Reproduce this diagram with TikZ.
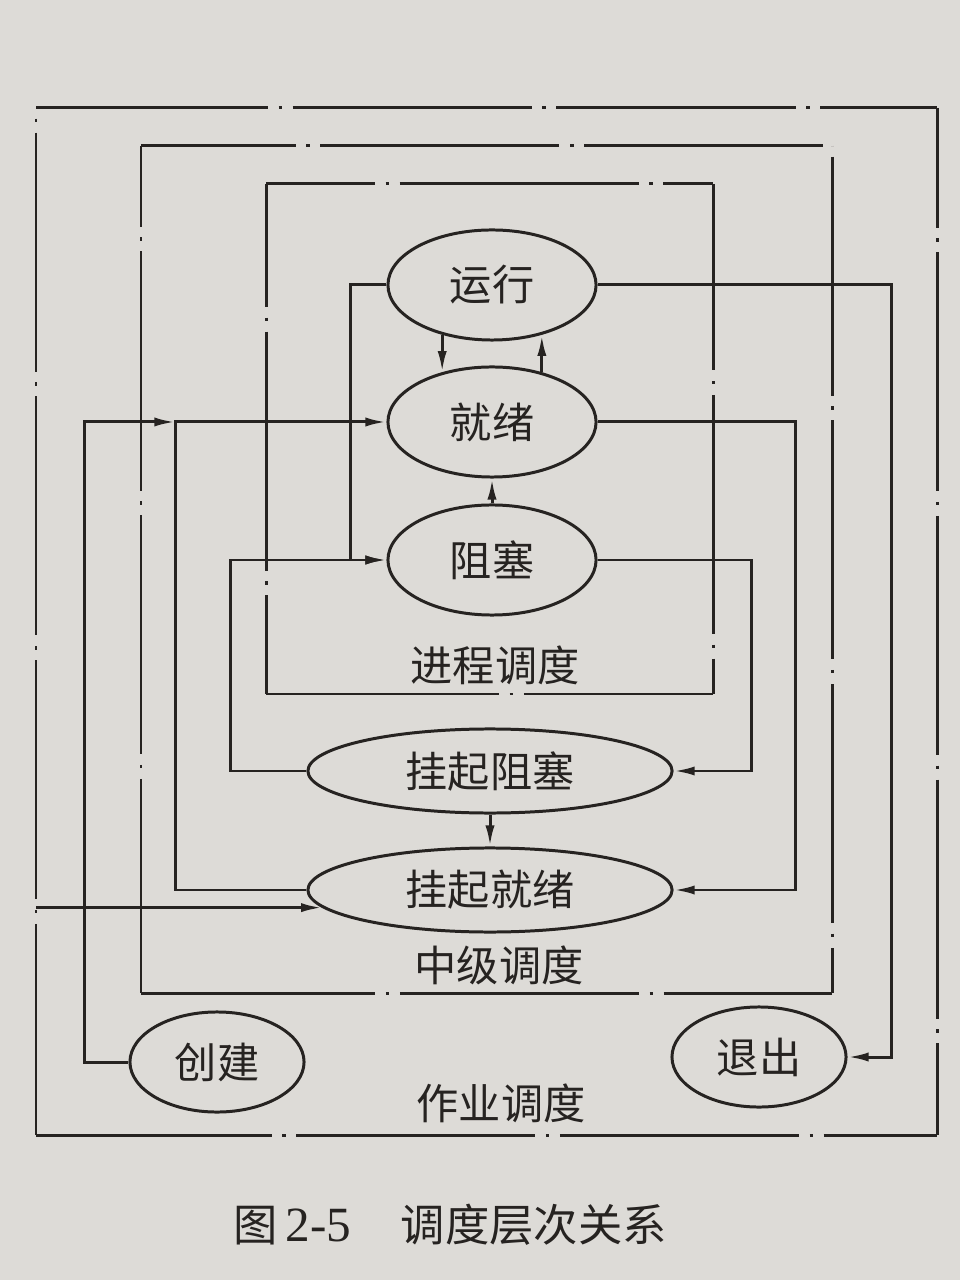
\documentclass[tikz,border=0pt]{standalone}
\usepackage{fontspec}
\setmainfont{Liberation Serif}
\newfontfamily\cjk{Noto Sans CJK SC}
\usetikzlibrary{arrows.meta, shapes.geometric}
\definecolor{paper}{RGB}{221,219,215}
\definecolor{ink}{RGB}{38,35,33}

\begin{document}
\begin{tikzpicture}[x=0.01cm, y=-0.01cm, line width=0.85pt, color=ink,
  proc/.style={ellipse, draw, inner sep=0pt, minimum width=2.08cm, minimum height=1.1cm,
    font=\cjk\fontsize{12pt}{14pt}\selectfont},
  procwide/.style={proc, minimum width=3.64cm, minimum height=0.84cm},
  procsmall/.style={proc, minimum width=1.74cm, minimum height=1.0cm},
  arr/.style={-{Latex[length=6pt,width=2.6pt]}},
  sched/.style={dash pattern=on 68pt off 3pt on 1pt off 3pt, dash phase=#1},
  lbl/.style={font=\cjk\fontsize{12pt}{14pt}\selectfont}]

  % -- paper --
  \fill[paper] (0,0) rectangle (960,1280);

  % -- job scheduling frame --
  \coordinate (jobNW) at (36,108);
  \coordinate (jobNE) at (937,108);
  \coordinate (jobSW) at (36,1135);
  \coordinate (jobSE) at (937,1135);
  \draw[sched=2pt] (jobNW) -- (jobNE);
  \draw[sched=34pt] (jobNE) -- (jobSE);
  \draw[sched=1pt] (jobSW) -- (jobSE);
  \draw[sched=68pt] (jobNW) -- (jobSW);

  % -- medium-term frame --
  \coordinate (midNW) at (141,146);
  \coordinate (midNE) at (832,146);
  \coordinate (midSW) at (141,993);
  \coordinate (midSE) at (832,993);
  \draw[sched=24pt] (midNW) -- (midNE);
  \draw[sched=72pt] (midNE) -- (midSE);
  \draw[sched=1.4pt] (midSW) -- (midSE);
  \draw[sched=45pt] (midNW) -- (midSW);

  % -- process scheduling frame --
  \coordinate (prcNW) at (266,184);
  \coordinate (prcNE) at (713,184);
  \coordinate (prcSW) at (266,694);
  \coordinate (prcSE) at (713,694);
  \draw[sched=37pt] (prcNW) -- (prcNE);
  \draw[sched=15pt] (prcNE) -- (prcSE);
  \draw[sched=1.7pt] (prcSW) -- (prcSE);
  \draw[sched=33pt] (prcNW) -- (prcSW);

  % -- states --
  \node[proc] (yx) at (492,285) {运行};
  \node[proc] (jx) at (492,422) {就绪};
  \node[proc] (zs) at (492,560) {阻塞};
  \node[procwide] (gzs) at (490,771) {挂起阻塞};
  \node[procwide] (gjx) at (490,890) {挂起就绪};
  \node[procsmall] (cj) at (217,1062) {创建};
  \node[procsmall] (tc) at (759,1057) {退出};

  % -- level names --
  \node[lbl] (jcdd) at (495,665) {进程调度};
  \node[lbl] (zjdd) at (499,965) {中级调度};
  \node[lbl] (zydd) at (501,1103) {作业调度};

  % -- process scheduling --
  \draw[arr] (yx.225) -- (jx.135);
  \draw[arr] (jx.45) -- (yx.315);
  \draw[arr] (zs.north) -- (jx.south);
  \draw[arr] (yx.west) -- ++(-36,0) |- (zs.west);

  % -- medium-term scheduling --
  \draw[arr] (jx.east) -- ++(198,0) |- (gjx.east);
  \draw[arr] (zs.east) -- ++(154,0) |- (gzs.east);
  \draw[arr] (gzs.south) -- (gjx.north);
  \draw[arr] (gzs.west) -- ++(-76,0) |- (zs.west);
  \draw[arr] (gjx.west) -- ++(-131,0) coordinate (jn) |- (jx.west);

  % -- job scheduling --
  \draw[arr] (cj.west) -- ++(-44,0) |- (jn |- jx.west);
  \draw[arr] (jobNW |- gjx.186) -- (gjx.186);
  \draw[arr] (yx.east) -- ++(294,0) |- (tc.east);

  % Caption
  \node (cap) at (450,1225) {\fontsize{14pt}{16pt}\selectfont
    {\cjk\fontsize{12.6pt}{16pt}\selectfont 图}\,2-5\hspace{14pt}{\cjk\fontsize{12.6pt}{16pt}\selectfont 调度层次关系}};

\end{tikzpicture}
\end{document}
